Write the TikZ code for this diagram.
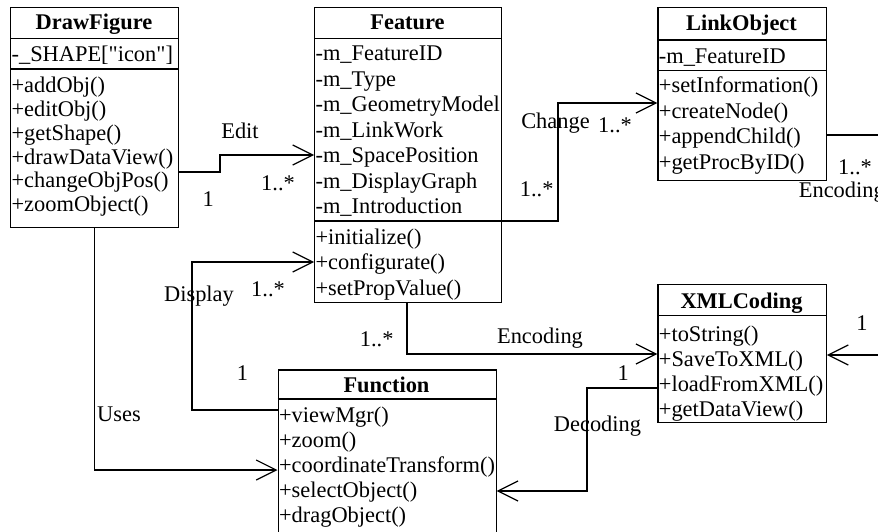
\documentclass[tikz,border=0pt]{standalone}
\usepackage{fontspec}
\setmainfont{Liberation Serif}[Ligatures=TeXOff]
\usetikzlibrary{arrows.meta}
\begin{document}
\begin{tikzpicture}[x=1pt,y=-1pt,line width=1.2pt,
  every node/.style={font=\fontsize{22.4pt}{26pt}\selectfont, inner sep=0pt},
  cls/.style={draw, anchor=north west, inner sep=0pt, line width=1.2pt},
  row/.style={anchor=base west},
  ttl/.style={anchor=base, font=\fontsize{22.4pt}{26pt}\selectfont\bfseries},
  lbl/.style={anchor=base},
  assoc/.style={-{Straight Barb[length=20pt,width=20pt]}}
]
\useasboundingbox (0,0) rectangle (878,532);

% ---------- class boxes ----------
\node[cls, minimum width=168pt, minimum height=219.7pt] (df) at (10,7.3) {};
\node[cls, minimum width=187pt, minimum height=294.4pt] (feat) at (314,7.3) {};
\node[cls, minimum width=168.4pt, minimum height=172.7pt] (link) at (657.3,7.3) {};
\node[cls, minimum width=168.4pt, minimum height=138pt] (xml) at (657.3,284) {};
\node[cls, minimum width=218pt, minimum height=162.2pt] (func) at (277.5,369.3) {};

% compartment separators
\draw (df.west |- 0,38.3) -- (df.east |- 0,38.3);
\draw (df.west |- 0,69) -- (df.east |- 0,69);
\draw (feat.west |- 0,38.3) -- (feat.east |- 0,38.3);
\draw (feat.west |- 0,221) -- (feat.east |- 0,221);
\draw (link.west |- 0,40) -- (link.east |- 0,40);
\draw (link.west |- 0,70.5) -- (link.east |- 0,70.5);
\draw (xml.west |- 0,315.5) -- (xml.east |- 0,315.5);
\draw (func.west |- 0,399) -- (func.east |- 0,399);

% ---------- DrawFigure ----------
\node[ttl] (dft) at (94,29.5) {DrawFigure};
\node[row] (dfa1) at (11,61.6) {-\_SHAPE["icon"]};
\node[row] (dfm1) at (11,93) {+addObj()};
\node[row] (dfm2) at (11,116.7) {+editObj()};
\node[row] (dfm3) at (11,140.4) {+getShape()};
\node[row] (dfm4) at (11,164.1) {+drawDataView()};
\node[row] (dfm5) at (11,187.8) {+changeObjPos()};
\node[row] (dfm6) at (11,211.5) {+zoomObject()};

% ---------- Feature ----------
\node[ttl] (ft) at (407.5,30) {Feature};
\node[row] (fa1) at (315,61) {-m\_FeatureID};
\node[row] (fa2) at (315,86.4) {-m\_Type};
\node[row] (fa3) at (315,111.8) {-m\_GeometryModel};
\node[row] (fa4) at (315,137.2) {-m\_LinkWork};
\node[row] (fa5) at (315,162.6) {-m\_SpacePosition};
\node[row] (fa6) at (315,188) {-m\_DisplayGraph};
\node[row] (fa7) at (315,213.4) {-m\_Introduction};
\node[row] (fm1) at (315,244) {+initialize()};
\node[row] (fm2) at (315,269.8) {+configurate()};
\node[row] (fm3) at (315,295.6) {+setPropValue()};

% ---------- LinkObject ----------
\node[ttl] (lt) at (741.5,31) {LinkObject};
\node[row] (la1) at (658.3,63.3) {-m\_FeatureID};
\node[row] (lm1) at (658.3,93) {+setInformation()};
\node[row] (lm2) at (658.3,118.3) {+createNode()};
\node[row] (lm3) at (658.3,143.6) {+appendChild()};
\node[row] (lm4) at (658.3,169) {+getProcByID()};

% ---------- XMLCoding ----------
\node[ttl] (xt) at (741.5,308.3) {XMLCoding};
\node[row] (xm1) at (658.3,341) {+toString()};
\node[row] (xm2) at (658.3,366) {+SaveToXML()};
\node[row] (xm3) at (658.3,391) {+loadFromXML()};
\node[row] (xm4) at (658.3,416) {+getDataView()};

% ---------- Function ----------
\node[ttl] (fnt) at (386.5,392) {Function};
\node[row] (fnm1) at (278.5,422.3) {+viewMgr()};
\node[row] (fnm2) at (278.5,447.3) {+zoom()};
\node[row] (fnm3) at (278.5,472.3) {+coordinateTransform()};
\node[row] (fnm4) at (278.5,497.3) {+selectObject()};
\node[row] (fnm5) at (278.5,522.3) {+dragObject()};

% ---------- connectors ----------
\coordinate (rEnc) at (882,135);
\coordinate (rIn) at (882,355);

% Edit
\draw[assoc] (df.east |- 0,172) -- (220,172) -- (220,155) -- (feat.west |- 0,155);
% Change
\draw[assoc] (feat.east |- 0,221) -- (558,221) -- (558,103) -- (link.west |- 0,103);
% LinkObject encoding (leaves picture)
\draw (link.east |- rEnc) -- (rEnc);
% incoming to XMLCoding
\draw[assoc] (rIn) -- (xml.east |- rIn);
% Feature -> XMLCoding encoding
\draw[assoc] (feat.south -| 407,0) -- (407,354) -- (xml.west |- 0,354);
% Decoding
\draw[assoc] (xml.west |- 0,388) -- (587,388) -- (587,491) -- (func.east |- 0,491);
% Display
\draw[assoc] (func.west |- 0,410) -- (192,410) -- (192,262) -- (feat.west |- 0,262);
% Uses
\draw[assoc] (df.south -| 94.5,0) -- (94.5,470) -- (func.west |- 0,470);

% ---------- labels ----------
\node[lbl] (lEdit) at (240,138.3) {Edit};
\node[lbl] (lE1) at (208.3,206.7) {1};
\node[lbl] (lEm) at (278,190) {1..*};
\node[lbl] (lChange) at (555.5,128.5) {Change};
\node[lbl] (lCm1) at (615,132) {1..*};
\node[lbl] (lCm2) at (536.7,196) {1..*};
\node[lbl] (lLm) at (855,175) {1..*};
\node[anchor=base west] (lEnc2) at (798.3,197.5) {Encoding};
\node[lbl] (lR1) at (862,330) {1};
\node[lbl] (lEnc) at (540,343.3) {Encoding};
\node[lbl] (lFm) at (376.7,346.5) {1..*};
\node[lbl] (lD1) at (623.3,380) {1};
\node[lbl] (lDec) at (597.5,431) {Decoding};
\node[lbl] (lDisp) at (199,301) {Display};
\node[lbl] (lDm) at (268,296) {1..*};
\node[lbl] (lF1) at (242.5,380) {1};
\node[lbl] (lUses) at (119,421) {Uses};
\end{tikzpicture}
\end{document}
